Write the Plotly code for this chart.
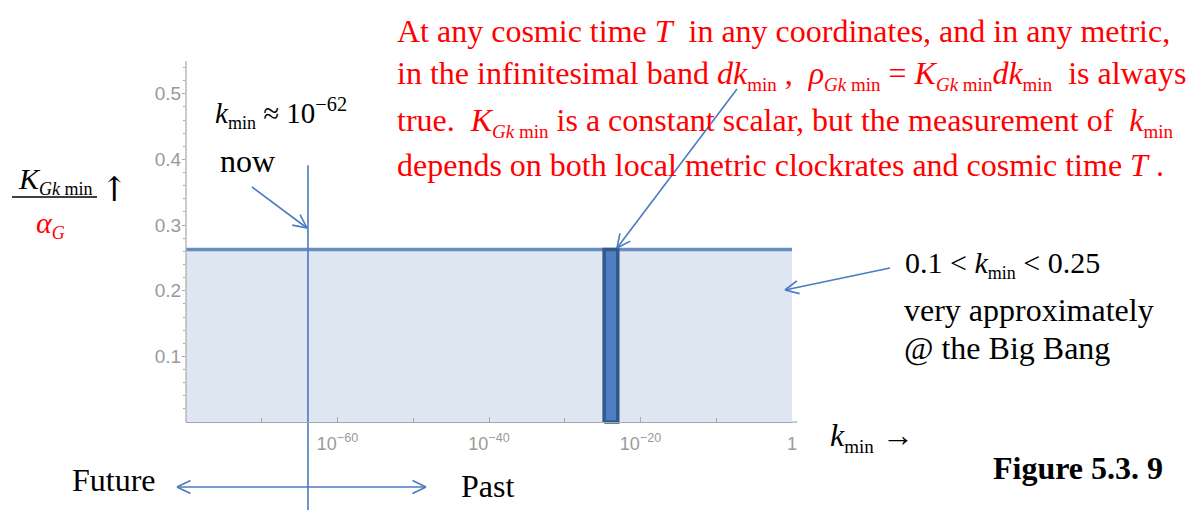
import math
import plotly.graph_objects as go

# ---------------- data ----------------
band_k = [1e-80, 1.0]            # k_min extent of the shaded band
band_level = [0.263, 0.263]      # K_Gkmin / alpha_G level
now_k = [10 ** -63.9, 10 ** -63.9]   # k_min "now" (vertical marker)
now_y = [-0.134, 0.391]              # extent of the "now" marker line
bar_k = [10 ** -24.8, 10 ** -23.0]   # infinitesimal band dk_min
bar_level = 0.263

x_tickvals = [1e-60, 1e-40, 1e-20, 1.0]
x_ticktext = ["10<sup>\u221260</sup>", "10<sup>\u221240</sup>", "10<sup>\u221220</sup>", "1"]
x_minor = [1e-80, 1e-70, 1e-50, 1e-30, 1e-10]
y_tickvals = [0.1, 0.2, 0.3, 0.4, 0.5]
y_ticktext = ["0.1", "0.2", "0.3", "0.4", "0.5"]
y_minor = [0.02, 0.04, 0.06, 0.08, 0.12, 0.14, 0.16, 0.18, 0.22, 0.24, 0.26, 0.28,
           0.32, 0.34, 0.36, 0.38, 0.42, 0.44, 0.46, 0.48, 0.52, 0.54]
y_range = [-0.134, 0.55]

# ---------------- geometry helpers (page pixel -> paper) ----------------
W, H = 1192, 510
L_PX, R_PX, T_PX, B_PX = 186, 792, 61, 510   # plot area in page pixels
PW, PH = R_PX - L_PX, B_PX - T_PX


def px(x):
    return (x - L_PX) / PW


def py(y):
    return (B_PX - y) / PH


BLUE = "#4a7bc0"
SERIF = "Liberation Serif"
GREY = "#a8a8a8"

shapes = []


def seg(x0, y0, x1, y1, color=BLUE, width=1.6):
    shapes.append(dict(type="line", xref="paper", yref="paper",
                       x0=px(x0), y0=py(y0), x1=px(x1), y1=py(y1),
                       line=dict(color=color, width=width)))


def head(xt, yt, xf, yf, size=15, ang=0.45):
    a = math.atan2(yf - yt, xf - xt)
    for s in (-1, 1):
        seg(xt, yt, xt + size * math.cos(a + s * ang), yt + size * math.sin(a + s * ang))


def arrow(x0, y0, x1, y1, both=False):
    seg(x0, y0, x1, y1)
    head(x1, y1, x0, y0)
    if both:
        head(x0, y0, x1, y1)


def sub(s, size=19):
    return '<sub><span style="font-size:%dpx">%s</span></sub>' % (size, s)


fig = go.Figure()

# shaded band with top line
fig.add_trace(go.Scatter(x=band_k, y=band_level, mode="lines", fill="tozeroy",
                         fillcolor="rgba(205,216,234,0.65)",
                         line=dict(color="#6a8cc0", width=3.5), hoverinfo="skip"))

# thick bar dk_min
fig.add_trace(go.Scatter(x=[bar_k[0], bar_k[1], bar_k[1], bar_k[0], bar_k[0]],
                         y=[0, 0, bar_level, bar_level, 0], mode="lines", fill="toself",
                         fillcolor="#4f7fc2", line=dict(color="#35588a", width=3.5),
                         hoverinfo="skip"))

# vertical "now" line
fig.add_trace(go.Scatter(x=now_k, y=now_y, mode="lines",
                         line=dict(color=BLUE, width=1.6), hoverinfo="skip"))

# y axis line (only from 0 upward)
shapes.append(dict(type="line", xref="paper", yref="y", x0=0, x1=0, y0=0, y1=y_range[1],
                   line=dict(color=GREY, width=1.2)))
# x axis line slightly overshooting the last tick
shapes.append(dict(type="line", xref="paper", yref="y", x0=1, x1=px(797), y0=0, y1=0,
                   line=dict(color=GREY, width=1.2)))

# arrows
arrow(252, 187, 307, 228)          # now
arrow(737, 89, 617, 248)           # to bar top
arrow(890, 268, 785, 290)          # to band
arrow(177, 487, 426, 487, both=True)  # future / past

# y-label fraction bar
shapes.append(dict(type="line", xref="paper", yref="paper", x0=px(12), x1=px(97),
                   y0=py(197), y1=py(197), line=dict(color="black", width=1.5)))

ann = []


def text(x, y, s, size=32, color="black", xanchor="left", yanchor="middle", bold=False,
         family=SERIF):
    if bold:
        s = "<b>" + s + "</b>"
    ann.append(dict(xref="paper", yref="paper", x=px(x), y=py(y), text=s, showarrow=False,
                    xanchor=xanchor, yanchor=yanchor,
                    font=dict(family=family, size=size, color=color)))


RED = "#ff0000"
GKMIN = "<i>Gk</i> min"
text(395, 31, "At any cosmic time <i>T</i>  in any coordinates, and in any metric,", color=RED)
text(395, 75, "in the infinitesimal band <i>dk</i>" + sub("min") + " ,  <i>\u03c1</i>" + sub(GKMIN)
     + " = <i>K</i>" + sub(GKMIN) + "<i>dk</i>" + sub("min") + "  is always", color=RED)
text(395, 122, "true.  <i>K</i>" + sub(GKMIN) + " is a constant scalar, but the measurement of  "
     "<i>k</i>" + sub("min"), color=RED)
text(395, 165, "depends on both local metric clockrates and cosmic time <i>T</i> .", color=RED)

text(213, 113, "<i>k</i>" + sub("min", 18) + " \u2248 10<sup>\u221262</sup>", size=29)
text(218, 161, "now")

text(55, 180, "<i>K</i>" + sub(GKMIN, 18), size=30, xanchor="center")
text(50, 224, "<i>\u03b1</i>" + sub("<i>G</i>", 18), size=30, color=RED, xanchor="center")
text(114, 189, "\u2191", size=34, xanchor="center", family="DejaVu Serif")

text(903, 264, "0.1 &lt; <i>k</i>" + sub("min", 18) + " &lt; 0.25", size=30)
text(902, 310, "very approximately")
text(902, 348, "@ the Big Bang")

text(828, 437, "<i>k</i>" + sub("min", 19) + " \u2192")
text(1165, 468, "Figure 5.3. 9", xanchor="right", bold=True)
text(158, 480, "Future", xanchor="right")
text(459, 486, "Past")

fig.update_layout(
    width=W, height=H, autosize=False,
    margin=dict(l=L_PX, r=W - R_PX, t=T_PX, b=H - B_PX),
    paper_bgcolor="white", plot_bgcolor="white", showlegend=False,
    shapes=shapes, annotations=ann,
    xaxis=dict(type="log", range=[-80, 0], showgrid=False, zeroline=False,
               anchor="free", position=(0 - y_range[0]) / (y_range[1] - y_range[0]),
               showline=True, linecolor=GREY, linewidth=1.2,
               tickmode="array", tickvals=x_tickvals, ticktext=x_ticktext,
               ticks="inside", ticklen=5, tickcolor=GREY,
               minor=dict(tickmode="array", tickvals=x_minor, ticks="inside", ticklen=4,
                          tickcolor=GREY),
               tickfont=dict(family="Liberation Sans", size=18, color="#9a9a9a"),
               ticklabelstandoff=5),
    yaxis=dict(range=y_range, showgrid=False, zeroline=False, showline=False,
               tickmode="array", tickvals=y_tickvals, ticktext=y_ticktext,
               ticks="outside", ticklen=3, tickcolor=GREY,
               minor=dict(tickmode="array", tickvals=y_minor, ticks="outside", ticklen=2,
                          tickcolor=GREY),
               tickfont=dict(family="Liberation Sans", size=19, color="#9a9a9a"),
               ticklabelstandoff=-3),
)

# remove the default 8px page margin so the figure fills the 1192x510 window exactly
fig.write_html("out.html", config={"displayModeBar": False},
               post_script="document.body.style.margin='0';document.body.style.overflow='hidden';")
